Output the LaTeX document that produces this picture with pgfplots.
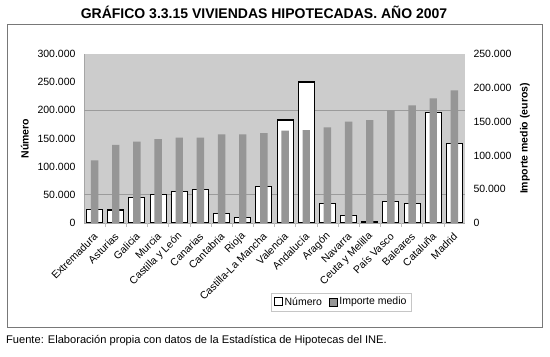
\documentclass[border=0pt]{standalone}
\usepackage{pgfplots}
\usepackage{pgfplotstable}
\pgfplotsset{compat=1.18}
\usepackage{fontspec}
\setmainfont{Liberation Sans}
\definecolor{bgray}{RGB}{150,150,150}
\definecolor{plotbg}{RGB}{204,204,204}
\definecolor{framegray}{RGB}{120,120,120}
\definecolor{gridgray}{RGB}{155,155,155}
\pgfplotsset{sqlegend/.style={legend image code/.code={\draw[##1] (0bp,-4bp) rectangle (8bp,4bp);}}}
\pgfplotstableread{
x num imp
0 24300 92700
1 23000 115400
2 45600 120300
3 51000 124200
4 55600 126200
5 59800 126200
6 17200 131100
7 10100 131100
8 64400 133100
9 182800 136500
10 250300 137500
11 34300 141500
12 13000 149800
13 3000 152300
14 38500 166700
15 35000 174000
16 196500 184400
17 140800 196300
}\datatable
\newcommand{\tkfont}{\fontsize{10.5bp}{12bp}\selectfont}
\begin{document}
\begin{tikzpicture}
\path[use as bounding box] (0bp,0bp) rectangle (550bp,357bp);
\draw[framegray, line width=0.9bp] (7bp,30bp) rectangle (542bp,333bp);
\node[font=\bfseries\fontsize{14bp}{16bp}\selectfont] at (264bp,345bp) {GRÁFICO 3.3.15 VIVIENDAS HIPOTECADAS. AÑO 2007};
\node[anchor=west, inner sep=0pt, font=\fontsize{11.1bp}{13bp}\selectfont] at (6bp,16.5bp) {Fuente: Elaboración propia con datos de la Estadística de Hipotecas del INE.};
\begin{axis}[
  at={(84bp,134bp)}, anchor=south west, scale only axis,
  width=381bp, height=169bp,
  xmin=-0.5, xmax=17.5, ymin=0, ymax=300000,
  ytick={0,50000,...,300000},
  scaled y ticks=false,
  xtick={0,...,17},
  xticklabels={Extremadura,Asturias,Galicia,Murcia,Castilla y León,Canarias,Cantabria,Rioja,Castilla-La Mancha,Valencia,Andalucía,Aragón,Navarra,Ceuta y Melilla,País Vasco,Baleares,Cataluña,Madrid},
  axis background/.style={fill=plotbg},
  axis y line*=left, axis x line*=bottom,
  axis line style={draw=gray!70, line width=0.6bp},
  major tick length=0pt,
  extra y ticks={50000,200000}, extra y tick labels={},
  extra y tick style={grid=major, major grid style={draw=gridgray, line width=0.8bp}},
  extra x ticks={0.5,1.5,...,16.5}, extra x tick labels={},
  extra x tick style={major tick length=4bp, tick align=outside, tick style={draw=gray!50, line width=0.6bp}},
  ticklabel style={font=\tkfont},
  yticklabel style={xshift=-5bp},
  xticklabel style={rotate=45, anchor=east, xshift=-4bp, yshift=-9bp},
  ylabel={Número},
  ylabel style={at={(axis description cs:-0.155,0.5)}, anchor=center, rotate=0, font=\bfseries\tkfont},
  /pgf/number format/fixed,
  /pgf/number format/precision=0,
  /pgf/number format/1000 sep={.},
  /pgf/number format/assume math mode=true,
  ybar, bar width=0.756,
]
\addplot[fill=white, draw=black, line width=1.1bp] table[x=x,y=num]{\datatable};
\end{axis}
\begin{axis}[
  at={(84bp,134bp)}, anchor=south west, scale only axis,
  width=381bp, height=169bp,
  xmin=-0.5, xmax=17.5, ymin=0, ymax=250000,
  ytick={0,50000,...,250000},
  scaled y ticks=false,
  axis y line*=right, axis x line=none,
  y axis line style={draw=none},
  major tick length=0pt,
  ticklabel style={font=\tkfont},
  yticklabel style={xshift=5bp},
  ylabel={Importe medio (euros)},
  ylabel style={at={(axis description cs:1.157,0.5)}, anchor=center, rotate=0, font=\bfseries\tkfont},
  /pgf/number format/fixed,
  /pgf/number format/precision=0,
  /pgf/number format/1000 sep={.},
  /pgf/number format/assume math mode=true,
  ybar, bar width=0.35,
  legend style={at={(axis description cs:0.6745,-0.467)}, anchor=center, legend columns=2,
    draw=gray!45, fill=white, font=\tkfont, inner sep=2.5bp,
    /tikz/every even column/.append style={column sep=5bp}},
  legend cell align=left,
]
\addlegendimage{fill=white, draw=black, line width=1.1bp, sqlegend}
\addlegendentry{Número}
\addplot[fill=bgray, draw=none, sqlegend] table[x=x,y=imp]{\datatable};
\addlegendentry{Importe medio}
\end{axis}
\end{tikzpicture}
\end{document}
